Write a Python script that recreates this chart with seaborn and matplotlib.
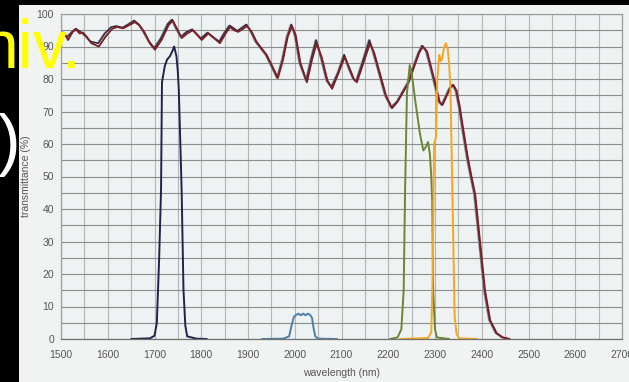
import numpy as np
import pandas as pd
import matplotlib.pyplot as plt
import seaborn as sns
from matplotlib.patches import Rectangle
from matplotlib.ticker import MultipleLocator

# ── dados ────────────────────────────────────────────────────
# curva larga (banda "aberta"), traço vermelho principal
broad_wl = [1500, 1508, 1515, 1525, 1532, 1540, 1547, 1555, 1565, 1581,
            1595, 1610, 1620, 1633, 1645, 1658, 1668, 1678, 1690, 1701,
            1715, 1730, 1739, 1748, 1758, 1770, 1782, 1792, 1801, 1808,
            1815, 1828, 1840, 1852, 1862, 1870, 1879, 1890, 1898, 1908,
            1918, 1926, 1940, 1950, 1964, 1975, 1985, 1994, 2002, 2012,
            2026, 2037, 2047, 2058, 2070, 2080, 2094, 2107, 2118, 2127,
            2133, 2147, 2161, 2170, 2182, 2195, 2208, 2220, 2232, 2244,
            2256, 2266, 2274, 2283, 2292, 2304, 2310, 2316, 2324, 2332,
            2339, 2346, 2353, 2361, 2370, 2378, 2386, 2396, 2407, 2418,
            2432, 2445, 2460]
broad_red = [94.5, 94.0, 92.0, 94.5, 95.2, 94.0, 94.3, 93.0, 91.0, 90.0,
             93.0, 95.5, 96.0, 95.6, 96.5, 97.5, 96.5, 94.5, 91.0, 89.0,
             92.0, 96.5, 98.0, 95.5, 92.6, 94.0, 95.0, 93.5, 92.0, 93.0,
             94.0, 92.5, 91.0, 94.0, 96.0, 95.0, 94.5, 95.5, 96.3, 94.5,
             91.5, 90.0, 87.4, 84.5, 80.3, 86.0, 93.0, 96.3, 93.5, 85.0,
             79.0, 86.0, 91.0, 86.5, 79.5, 77.0, 82.0, 86.8, 83.0, 79.8,
             79.0, 85.0, 91.0, 88.0, 81.8, 75.0, 71.0, 73.0, 76.0, 79.0,
             84.0, 88.0, 90.0, 88.5, 83.5, 76.6, 73.0, 72.0, 74.5, 77.0,
             78.2, 76.5, 71.5, 64.0, 56.0, 50.0, 44.5, 30.5, 15.0, 5.8,
             1.8, 0.5, 0.0]

# traço escuro (ligeiramente deslocado para a esquerda)
dark_wl = [1500, 1512, 1522, 1530, 1545, 1552, 1562, 1578, 1592, 1606,
           1617, 1630, 1642, 1655, 1665, 1675, 1687, 1698, 1712, 1727,
           1736, 1745, 1755, 1767, 1779, 1789, 1798, 1812, 1825, 1837,
           1849, 1859, 1876, 1895, 1905, 1915, 1923, 1937, 1947, 1961,
           1972, 1982, 1991, 1999, 2009, 2023, 2034, 2044, 2055, 2067,
           2077, 2091, 2104, 2115, 2124, 2130, 2144, 2158, 2167, 2179,
           2192, 2205, 2217, 2229, 2241, 2253, 2263, 2271, 2280, 2289,
           2301, 2307, 2313, 2321, 2329, 2336, 2343, 2350, 2358, 2367,
           2375, 2383, 2393, 2404, 2415, 2429, 2442, 2457]
dark_T = [93.5, 93.0, 94.5, 95.5, 94.0, 93.0, 91.5, 91.0, 94.0, 96.0,
          96.3, 95.8, 96.8, 98.0, 96.8, 94.5, 91.5, 89.5, 92.5, 97.0,
          98.3, 95.5, 93.0, 94.5, 95.3, 93.8, 92.5, 94.3, 92.8, 91.5,
          94.5, 96.5, 94.8, 96.8, 94.5, 91.5, 90.0, 87.4, 84.5, 80.3,
          86.0, 93.0, 96.8, 93.5, 85.0, 79.5, 86.5, 92.0, 86.5, 79.5,
          77.5, 82.0, 87.5, 83.0, 80.0, 79.3, 85.5, 92.0, 88.0, 81.8,
          75.0, 71.3, 73.0, 76.0, 79.0, 84.0, 88.0, 90.3, 88.5, 83.5,
          76.6, 73.0, 72.0, 74.5, 77.0, 78.2, 76.5, 71.5, 64.0, 56.0,
          50.0, 44.5, 30.5, 15.0, 5.8, 1.8, 0.5, 0.0]

# filtro 1 (azul-marinho, ~1740 nm)
f1_wl = [1650, 1690, 1700, 1705, 1710, 1714, 1716, 1722, 1727, 1733,
         1738, 1742, 1747, 1750, 1752, 1758, 1762, 1766, 1770, 1790, 1812]
f1_T = [0.0, 0.2, 1.0, 5.0, 25.0, 46.0, 79.0, 84.0, 86.0, 87.0,
        88.5, 90.0, 87.0, 82.0, 76.6, 46.0, 15.0, 4.0, 0.8, 0.1, 0.0]

# filtro 2 (azul claro, ~2020 nm)
f2_wl = [1930, 1975, 1988, 1993, 1998, 2003, 2008, 2013, 2018, 2023,
         2028, 2033, 2037, 2040, 2044, 2050, 2090]
f2_T = [0.0, 0.1, 0.8, 4.0, 6.8, 7.4, 7.8, 7.3, 7.8, 7.3,
        7.8, 7.4, 6.5, 3.5, 0.8, 0.1, 0.0]

# filtro 3 (verde, ~2250 nm)
f3_wl = [2204, 2220, 2228, 2233, 2236, 2240, 2246, 2250, 2258, 2268,
         2275, 2280, 2285, 2289, 2292, 2294, 2296, 2300, 2304, 2330]
f3_T = [0.0, 0.5, 3.0, 15.0, 45.8, 75.6, 84.3, 82.0, 73.0, 63.0,
        58.0, 59.0, 60.6, 57.0, 50.0, 42.8, 15.0, 3.0, 0.5, 0.0]

# filtro 4 (laranja, ~2320 nm)
f4_wl = [2225, 2285, 2292, 2295, 2298, 2302, 2305, 2309, 2312, 2315,
         2319, 2323, 2327, 2330, 2333, 2337, 2342, 2346, 2352, 2390]
f4_T = [0.0, 0.3, 2.0, 20.0, 60.0, 62.0, 80.0, 87.4, 85.5, 86.0,
        89.5, 91.0, 89.5, 85.0, 77.5, 46.0, 7.0, 1.5, 0.2, 0.0]

x_ticks = list(range(1500, 2701, 100))
y_ticks = list(range(0, 101, 10))

# ── figura ───────────────────────────────────────────────────
sns.set_theme(style="white")
plt.rcParams['font.family'] = ['Liberation Sans Narrow', 'Liberation Sans', 'DejaVu Sans']

fig = plt.figure(figsize=(6.29, 3.82), dpi=100, facecolor='black')
# painel claro do slide (atrás dos eixos)
fig.patches.append(Rectangle((19 / 629, 0), 1, (382 - 5) / 382,
                             transform=fig.transFigure, facecolor='#f1f3f3',
                             edgecolor='none', zorder=-5))

ax = fig.add_axes([61 / 629, 43 / 382, 561 / 629, 325 / 382])
ax.set_facecolor('#eef2f2')

sns.lineplot(x=dark_wl, y=dark_T, color='#8a8a90', lw=1.0, ax=ax, sort=False)
sns.lineplot(x=[w + 2 for w in dark_wl], y=dark_T, color='#2a2438', lw=1.0, ax=ax, sort=False)
sns.lineplot(x=broad_wl, y=broad_red, color='#c9a23a', lw=0.8, ax=ax, sort=False)
sns.lineplot(x=broad_wl, y=broad_red, color='#7c1d2c', lw=1.3, ax=ax, sort=False)

sns.lineplot(x=f1_wl, y=f1_T, color='#1f2449', lw=1.4, ax=ax, sort=False)
sns.lineplot(x=f2_wl, y=f2_T, color='#4f7ea6', lw=1.4, ax=ax, sort=False)
sns.lineplot(x=f3_wl, y=f3_T, color='#6b8636', lw=1.4, ax=ax, sort=False)
sns.lineplot(x=f4_wl, y=f4_T, color='#f5a623', lw=1.4, ax=ax, sort=False)

ax.set_xlim(1500, 2700)
ax.set_ylim(0, 100)
ax.set_xticks(x_ticks)
ax.set_yticks(y_ticks)
ax.xaxis.set_minor_locator(MultipleLocator(50))
ax.yaxis.set_minor_locator(MultipleLocator(5))
# linhas horizontais mais escuras que as verticais, como no original
ax.xaxis.grid(True, which='both', color='#b4b6b6', lw=0.8)
ax.yaxis.grid(True, which='both', color='#8c8e8e', lw=0.8)
ax.set_axisbelow(True)
for s in ax.spines.values():
    s.set_color('#9c9c9c')
    s.set_linewidth(0.9)
ax.spines['bottom'].set_color('#707070')
ax.tick_params(axis='both', which='both', length=0, labelsize=7.5, colors='#555555')
ax.tick_params(axis='x', pad=8)
ax.tick_params(axis='y', pad=5)
ax.set_xlabel('wavelength (nm)', fontsize=7.5, color='#555555', labelpad=6)
ax.set_ylabel('transmittance (%)', fontsize=7.5, color='#555555', labelpad=4)

# textos do slide que ficam por cima
fig.text(-20 / 629, (382 - 68) / 382, 'niv.', color='#ffff00', fontsize=49,
         family=['Liberation Sans', 'DejaVu Sans'], va='baseline', ha='left')
fig.text(-2 / 629, (382 - 163) / 382, ')', color='white', fontsize=49,
         family=['Liberation Sans', 'DejaVu Sans'], va='baseline', ha='left')

fig.savefig('out.png', dpi=100, facecolor='black')
